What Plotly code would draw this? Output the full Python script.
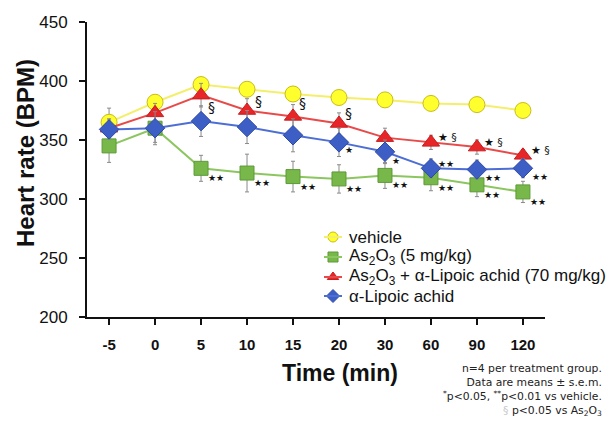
import plotly.graph_objects as go

times = ["-5", "0", "5", "10", "15", "20", "30", "60", "90", "120"]

vehicle = [365, 382, 397, 393, 389, 386, 384, 381, 380, 375]
vehicle_err = [12, 5, 4, 5, 5, 4, 4, 4, 4, 5]

as2o3 = [345, 360, 326, 322, 319, 317, 320, 318, 312, 306]
as2o3_err = [14, 12, 11, 16, 13, 12, 11, 11, 10, 9]

as2o3_ala = [360, 373, 388, 375, 370, 364, 352, 348, 344, 337]
as2o3_ala_err = [8, 8, 10, 10, 10, 9, 8, 6, 6, 5]

ala = [359, 360, 366, 361, 354, 348, 340, 326, 325, 326]
ala_err = [8, 14, 13, 14, 14, 12, 10, 8, 8, 8]

names = ["vehicle",
         "As<sub>2</sub>O<sub>3</sub> (5 mg/kg)",
         "As<sub>2</sub>O<sub>3</sub> + α-Lipoic achid (70 mg/kg)",
         "α-Lipoic achid"]

marks_green = ["", "", "★★", "★★", "★★", "★★", "★★", "★★", "★★", "★★"]
marks_red = ["", "", "§", "§", "§", "§", "", "★ §", "★ §", "★ §"]
marks_blue = ["", "", "", "", "", "★", "★", "★★", "★★", "★★"]

footnote = ["n=4 per treatment group.",
            "Data are means ± s.e.m.",
            "<sup>*</sup>p<0.05, <sup>**</sup>p<0.01 vs vehicle.",
            "<span style='color:#c8c8c8'>§</span> p<0.05 vs As<sub>2</sub>O<sub>3</sub>"]

W, H = 607, 428
L, R, T, B = 87, 62, 22, 111
PW, PH = W - L - R, H - T - B


def px(x):
    return (x - L) / PW


def py(y):
    return (H - B - y) / PH


fig = go.Figure()

styles = [
    (vehicle, vehicle_err, dict(symbol="circle", size=16, color="#ffff2e", line=dict(color="#c9bc1a", width=1)), "#f4ef6a"),
    (as2o3, as2o3_err, dict(symbol="square", size=14, color="#78b84a", line=dict(color="#5d9a36", width=1)), "#8cc660"),
    (as2o3_ala, as2o3_ala_err, dict(symbol="triangle-up", size=15, color="#e62628", line=dict(color="#c81e20", width=1)), "#e84a4a"),
    (ala, ala_err, dict(symbol="diamond", size=15, color="#3d5ec4", line=dict(color="#2e4aa8", width=1)), "#4d6ed4"),
]

for (vals, errs, mk, lc), nm in zip(styles, names):
    fig.add_trace(go.Scatter(
        x=times, y=vals, name=nm, mode="lines+markers", showlegend=False,
        marker=mk, line=dict(color=lc, width=2),
        error_y=dict(type="data", array=errs, visible=True, color="#8a8a8a", thickness=1, width=2),
    ))

# hand-drawn legend (short line + symbol + label)
leg_rows = [237, 257, 277, 296]
leg_x0, leg_x1, leg_mx, leg_tx = 324, 342, 333, 347
for (vals, errs, mk, lc), nm, ry in zip(styles, names, leg_rows):
    fig.add_shape(type="line", xref="paper", yref="paper", x0=px(leg_x0), x1=px(leg_x1),
                  y0=py(ry), y1=py(ry), line=dict(color=lc, width=2))
    small = dict(mk)
    small["size"] = 10
    fig.add_trace(go.Scatter(x=[px(leg_mx)], y=[py(ry)], xaxis="x2", yaxis="y2", mode="markers",
                             marker=small, showlegend=False, hoverinfo="skip", cliponaxis=False))
    fig.add_annotation(xref="paper", yref="paper", x=px(leg_tx), y=py(ry), xanchor="left", yanchor="middle",
                       showarrow=False, text=nm, font=dict(size=17, family="Liberation Sans, Arial", color="#111"))

# per-point label offsets (pixels)
green_shift = (15, -10)
blue_shift = {5: (10, -8), 6: (11, -9), 7: (15, 4), 8: (16, -8), 9: (17, -9)}
red_shift = {2: (10, -12), 3: (11, 10), 4: (9, 13), 5: (10, 10), 7: (17, 5), 8: (17, 5), 9: (18, 5)}

ann = []
for i, (v, m) in enumerate(zip(as2o3, marks_green)):
    if m:
        ann.append(dict(x=i, y=v, text=m, xshift=green_shift[0], yshift=green_shift[1]))
for i, (v, m) in enumerate(zip(as2o3_ala, marks_red)):
    if m:
        dx, dy = red_shift[i]
        fs = 14 if m == "§" else 11
        ann.append(dict(x=i, y=v, text=m, xshift=dx, yshift=dy, font=dict(size=fs)))
for i, (v, m) in enumerate(zip(ala, marks_blue)):
    if m:
        dx, dy = blue_shift[i]
        ann.append(dict(x=i, y=v, text=m, xshift=dx, yshift=dy))

for a in ann:
    f = dict(family="DejaVu Sans, Arial", size=9, color="#111")
    f.update(a.pop("font", {}))
    a.update(xref="x", yref="y", showarrow=False, font=f)
    fig.add_annotation(**a)

fig.add_annotation(xref="paper", yref="paper", x=px(604), y=py(390),
                   xanchor="right", yanchor="middle", align="right", showarrow=False,
                   text="<br>".join(footnote),
                   font=dict(family="DejaVu Sans, Arial", size=10.8, color="#222"))

# axis titles as annotations for exact placement
fig.add_annotation(xref="paper", yref="paper", x=px(340), y=py(373),
                   xanchor="center", yanchor="middle", showarrow=False,
                   text="<b>Time (min)</b>", font=dict(size=23, family="Liberation Sans, Arial", color="#111"))
fig.add_annotation(xref="paper", yref="paper", x=px(25), y=py(153),
                   xanchor="center", yanchor="middle", showarrow=False, textangle=-90,
                   text="<b>Heart rate (BPM)</b>", font=dict(size=24, family="Liberation Sans, Arial", color="#111"))

fig.update_layout(
    width=W, height=H,
    margin=dict(l=L, r=R, t=T, b=B),
    paper_bgcolor="white", plot_bgcolor="white",
    font=dict(family="Liberation Sans, Arial", color="#111"),
    showlegend=False,
    xaxis=dict(type="category", range=[-0.48, 9.48], showline=True, linecolor="#111", linewidth=2,
               ticks="outside", ticklen=6, tickwidth=2, tickcolor="#111", showgrid=False, zeroline=False,
               tickfont=dict(size=15, family="Liberation Sans, Arial"), ticklabelstandoff=7,
               tickprefix="<b>", ticksuffix="</b>"),
    yaxis=dict(range=[200, 450], tickvals=[200, 250, 300, 350, 400, 450], showline=True,
               linecolor="#111", linewidth=2, ticks="outside", ticklen=6, tickwidth=2, tickcolor="#111",
               showgrid=False, zeroline=False,
               tickfont=dict(size=17, family="Liberation Sans, Arial"), ticklabelstandoff=8,
               tickprefix="<b>", ticksuffix="</b>"),
    xaxis2=dict(overlaying="x", range=[0, 1], visible=False, fixedrange=True),
    yaxis2=dict(overlaying="y", range=[0, 1], visible=False, fixedrange=True),
)

fig.write_html("out.html", config={"displayModeBar": False},
               post_script="document.body.style.margin='0';document.body.style.overflow='hidden';")
